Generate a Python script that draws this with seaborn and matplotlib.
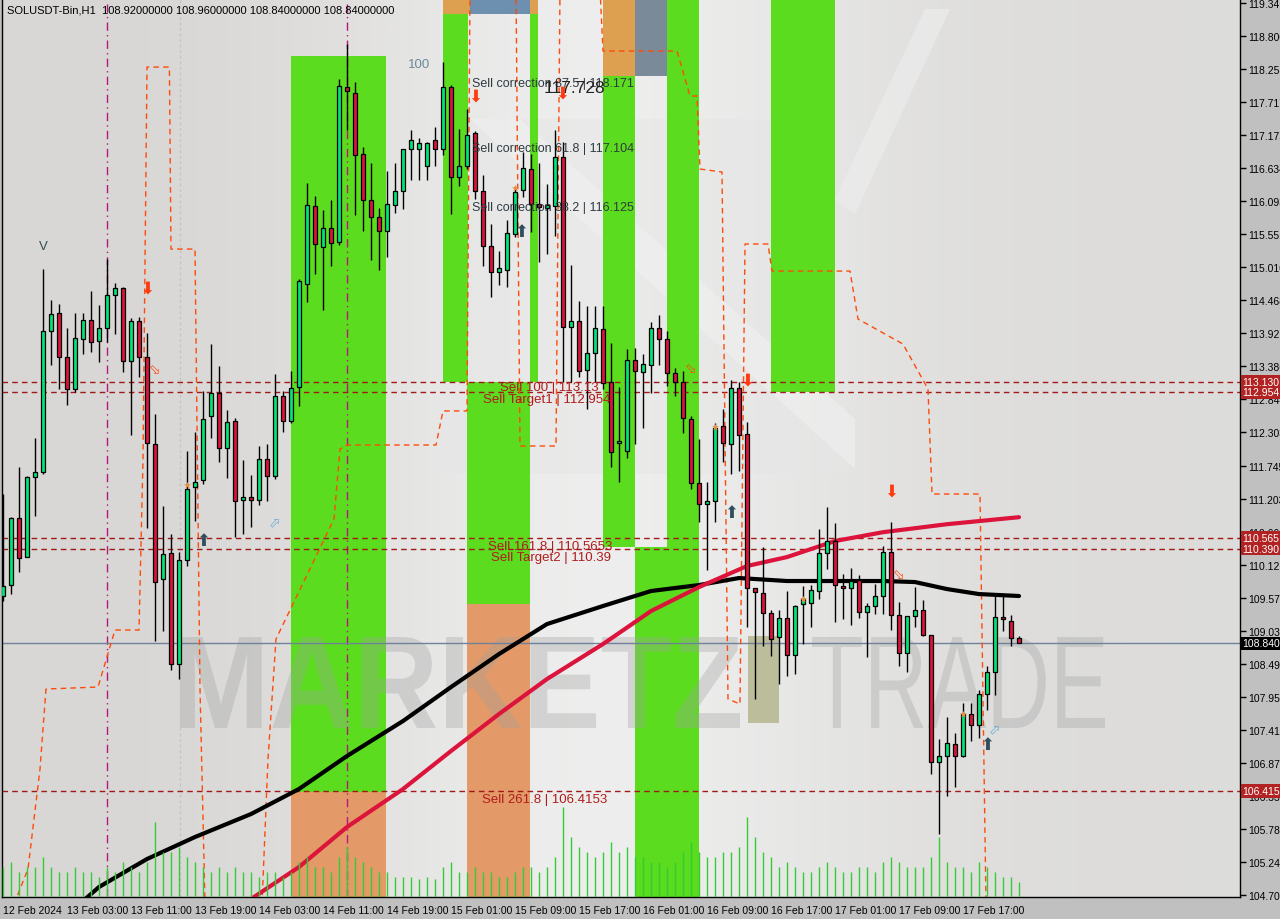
import numpy as np
import pandas as pd
import matplotlib
matplotlib.use("Agg")
import matplotlib.pyplot as plt
import matplotlib.patches as mpatches
import matplotlib.transforms as mtransforms
from matplotlib.textpath import TextPath
from matplotlib.font_manager import FontProperties
import seaborn as sns

sns.set_style("white")
plt.rcParams['font.family'] = ['Liberation Sans', 'DejaVu Sans']

# ---------------- data ----------------
opens = [109.613,109.793,110.892,110.252,111.565,111.647,113.960,114.256,113.534,113.009,
113.829,114.141,113.796,114.009,114.551,114.666,113.468,114.124,113.534,112.106,
109.891,110.318,108.497,110.203,111.401,111.516,112.566,112.943,112.041,112.484,
111.188,111.237,111.188,111.860,111.581,112.894,112.484,113.042,114.731,116.011,
115.338,115.650,115.420,117.963,117.865,116.864,116.109,115.830,115.601,116.027,
116.257,116.946,116.946,116.667,117.094,116.946,117.963,116.487,116.667,117.209,
116.257,115.355,114.928,114.961,115.552,116.273,116.618,116.044,115.978,116.011,
116.815,114.026,114.124,113.320,113.599,113.993,113.124,112.123,111.991,113.484,
113.288,113.402,114.009,113.829,113.271,113.124,112.516,111.466,111.122,111.171,
112.402,112.106,113.025,112.270,109.744,109.662,109.334,108.940,109.252,108.645,
109.481,109.498,109.695,110.318,110.515,109.777,109.744,109.874,109.350,109.449,
109.613,110.335,109.301,108.677,109.284,109.383,108.973,106.889,106.987,107.185,
106.987,107.677,107.496,108.005,108.366,109.268,109.202,108.920]
highs = [111.286,110.908,111.729,111.581,112.205,114.977,114.469,114.403,114.009,114.256,
114.256,114.616,114.387,115.141,114.748,114.682,114.174,114.190,113.927,112.599,
111.089,110.630,110.335,111.991,112.303,112.976,113.747,113.386,112.664,112.533,
111.844,111.598,112.074,112.106,113.255,112.976,113.304,114.813,116.388,116.175,
115.945,116.109,118.094,118.669,118.045,116.979,116.716,115.978,116.585,116.716,
116.946,117.258,117.127,117.061,117.307,118.373,117.996,117.274,117.602,117.241,
116.520,115.716,115.273,115.781,116.339,116.897,116.864,116.716,116.372,117.258,
117.061,115.043,114.452,114.370,114.370,114.370,113.763,113.042,113.665,113.681,
113.583,114.108,114.223,113.960,113.353,113.304,112.566,112.188,111.483,112.451,
112.681,113.156,113.124,112.467,109.744,110.417,109.383,109.383,109.695,109.465,
109.777,109.793,110.712,111.073,110.810,109.974,110.072,109.957,109.498,109.809,
110.433,110.827,109.514,109.284,109.760,109.547,108.973,107.267,107.627,107.365,
107.857,107.857,108.070,108.464,109.613,109.613,109.301,108.960]
lows = [109.531,109.645,110.006,110.252,110.925,111.614,113.402,113.009,112.746,112.960,
113.583,113.616,113.452,113.780,113.911,113.288,112.254,113.206,110.728,108.875,
109.038,108.398,108.251,110.105,110.843,111.450,112.205,111.811,111.549,110.580,
110.630,110.745,111.105,111.171,111.532,112.303,112.451,112.730,114.436,114.895,
114.305,115.027,115.371,117.258,115.863,115.601,115.125,114.961,115.174,115.896,
115.962,116.437,116.437,116.437,116.667,116.848,115.880,116.339,116.618,116.126,
115.027,114.518,114.715,114.682,115.502,116.159,115.584,115.092,115.223,115.519,
113.124,113.124,113.206,112.681,113.124,113.009,111.729,111.483,111.877,112.106,
112.369,112.943,113.402,113.058,112.894,112.287,111.368,110.827,110.039,110.827,
111.811,111.614,111.664,109.104,107.923,108.792,108.628,108.169,108.300,108.333,
108.825,109.104,109.563,110.056,109.186,109.235,109.137,109.252,108.612,109.317,
109.317,109.055,108.464,108.366,109.104,108.956,106.692,105.708,106.332,106.479,
106.971,107.234,107.283,107.742,107.989,109.038,108.792,108.840]
closes = [109.777,110.892,110.236,111.565,111.647,113.960,114.239,113.534,113.009,113.845,
114.141,113.780,114.009,114.551,114.666,113.468,114.124,113.534,112.123,109.842,
110.302,108.497,110.203,111.368,111.483,112.516,112.943,112.041,112.467,111.171,
111.237,111.188,111.860,111.581,112.894,112.484,113.025,114.780,116.027,115.388,
115.650,115.404,117.980,117.897,116.848,116.109,115.830,115.601,116.044,116.257,
116.946,117.094,117.045,117.045,116.946,117.963,116.487,116.667,117.176,116.257,
115.355,114.928,114.994,115.568,116.241,116.634,116.044,115.994,116.027,116.815,
114.026,114.124,113.304,113.599,114.009,113.107,111.975,112.156,113.484,113.304,
113.419,114.009,113.829,113.271,113.124,112.533,111.466,111.122,111.171,112.369,
112.123,113.025,112.254,109.744,109.678,109.334,108.907,109.252,108.645,109.449,
109.563,109.711,110.318,110.515,109.793,109.744,109.858,109.350,109.449,109.613,
110.335,109.301,108.677,109.284,109.383,108.973,106.889,106.987,107.201,106.987,
107.677,107.496,108.005,108.366,109.268,109.235,108.924,108.840]
volumes = [30,35,25,30,30,40,30,25,25,30, 25,25,20,30,25,35,30,25,35,75,
45,45,50,40,35,30,25,30,25,30, 25,25,20,25,25,20,25,35,40,30,
30,25,40,50,40,35,30,25,25,20, 20,20,18,20,18,30,35,25,25,30,
25,25,20,20,25,30,30,25,30,40, 90,60,50,45,40,45,55,45,50,40,
40,35,35,30,35,45,55,45,40,40, 45,45,50,80,60,45,40,30,35,30,
25,25,30,35,30,25,25,30,30,25, 35,40,35,30,30,30,40,60,35,30,
30,25,35,30,25,20,20,15]

time_labels = ["12 Feb 2024", "13 Feb 03:00", "13 Feb 11:00", "13 Feb 19:00", "14 Feb 03:00",
               "14 Feb 11:00", "14 Feb 19:00", "15 Feb 01:00", "15 Feb 09:00", "15 Feb 17:00",
               "16 Feb 01:00", "16 Feb 09:00", "16 Feb 17:00", "17 Feb 01:00", "17 Feb 09:00",
               "17 Feb 17:00"]
ytick_values = [119.341, 118.800, 118.258, 117.717, 117.175, 116.634, 116.093, 115.551, 115.010,
                114.468, 113.927, 113.386, 112.844, 112.303, 111.745, 111.203, 110.662, 110.121,
                109.579, 109.038, 108.496, 107.955, 107.414, 106.872, 106.331, 105.789, 105.248,
                104.706]

ma_black_idx = [10, 12, 18, 24, 31, 37, 43, 50, 56, 62, 68, 75, 81, 87, 92, 98, 110, 114, 118, 122, 127]
ma_black_val = [104.609, 104.839, 105.298, 105.659, 106.036, 106.447, 106.988, 107.562, 108.119,
                108.661, 109.153, 109.449, 109.695, 109.793, 109.908, 109.859, 109.859, 109.842,
                109.727, 109.645, 109.613]
ma_red_idx = [31, 37, 43, 50, 56, 62, 68, 75, 81, 87, 93, 98, 104, 110, 118, 127]
ma_red_val = [104.642, 105.167, 105.823, 106.446, 107.070, 107.677, 108.251, 108.825, 109.366,
              109.760, 110.105, 110.252, 110.515, 110.660, 110.791, 110.906]

step_idx = [1.375, 3.125, 4.625, 5.375, 11.875, 14.0, 17.0, 17.5, 18.0, 19.0, 20.8, 21.0, 24.0,
            24.625, 25.25, 32.375, 33.125, 34.125, 41.375, 42.125, 43.0, 54.125, 55.0, 58.0,
            58.375, 64.125, 64.625, 69.125, 69.625, 74.625, 75.0, 84.25, 85.875, 86.75, 87.125,
            89.875, 90.625, 92.125, 92.75, 95.625, 96.125, 105.875, 106.875, 112.5, 115.625,
            116.125, 122.125, 122.875]
step_val = [104.559, 105.134, 106.774, 108.087, 108.120, 109.055, 109.055, 111.860, 118.291,
            118.291, 118.291, 115.305, 115.305, 108.087, 104.559, 104.559, 106.938, 108.907,
            110.876, 112.024, 112.090, 112.090, 112.649, 112.649, 119.571, 119.571, 112.074,
            112.074, 119.571, 119.571, 118.554, 118.554, 117.816, 117.816, 116.618, 116.569,
            107.923, 107.841, 115.388, 115.388, 114.944, 114.944, 114.157, 113.747, 113.009,
            111.286, 111.286, 104.559]

level_prices = [113.130, 112.954, 110.565, 110.390, 106.415]
level_labels = ["113.130", "112.954", "110.565", "110.390", "106.415"]
last_price = 108.840

# zones: (start index, end index, low price, high price, colour)
zones = [
    (36.0, 47.9, 106.397, 118.472, "#5cdc1e"),
    (36.0, 47.9, 104.60, 106.397, "#e39a68"),
    (55.0, 58.1, 113.124, 119.161, "#5cdc1e"),
    (55.0, 58.4, 119.161, 119.50, "#dca050"),
    (58.4, 65.9, 119.161, 119.50, "#6d8fb0"),
    (65.9, 66.9, 119.161, 119.50, "#dca050"),
    (65.9, 66.9, 113.124, 119.161, "#5cdc1e"),
    (58.0, 65.9, 109.481, 113.124, "#5cdc1e"),
    (58.0, 65.9, 104.60, 109.481, "#e39a68"),
    (75.0, 79.0, 118.144, 119.50, "#dca050"),
    (75.0, 79.0, 110.417, 118.144, "#5cdc1e"),
    (79.0, 83.0, 118.144, 119.50, "#7b8a99"),
    (79.0, 83.0, 104.60, 110.417, "#5cdc1e"),
    (83.0, 87.0, 104.60, 119.50, "#5cdc1e"),
    (96.0, 104.0, 112.960, 119.50, "#5cdc1e"),
    (93.1, 97.0, 107.529, 108.956, "#bcbd9a"),
]

# ---------------- figure ----------------
W, H = 1280, 920
fig = plt.figure(figsize=(12.8, 9.2), dpi=100, facecolor="#c0c0c0")
ax = fig.add_axes([2 / W, 22 / H, 1238 / W, 897 / H])
ax.set_facecolor("#d9d8d6")
XMIN, XMAX = -0.125, 154.625
YMIN, YMAX = 104.675, 119.391
ax.set_xlim(XMIN, XMAX)
ax.set_ylim(YMIN, YMAX)

# background gradient (lighter centre)
grad = np.array([[0.0, 0.05, 0.3, 0.7, 0.85, 0.65, 0.35, 0.22, 0.18]])
ax.imshow(grad, extent=[0, 1, 0, 1], transform=ax.transAxes, aspect="auto",
          cmap=matplotlib.colors.LinearSegmentedColormap.from_list("bg", ["#d8d7d5", "#efefef"]),
          interpolation="bicubic", zorder=0)
# faint logo shapes (figure pixels, origin top-left)
def px_poly(pts, color, alpha):
    verts = [(x, H - y) for x, y in pts]
    ax.add_artist(mpatches.Polygon(verts, closed=True, transform=mtransforms.IdentityTransform(),
                                   fc=color, ec="none", alpha=alpha, zorder=0.3))

px_poly([(435, 120), (855, 120), (855, 475), (435, 475)], "#e6e6e6", 0.5)
px_poly([(835, 200), (925, 10), (950, 10), (855, 215)], "#ececec", 0.7)
px_poly([(470, 120), (520, 120), (855, 420), (855, 470)], "#f2f2f2", 0.5)

for (x0, x1, lo, hi, c) in zones:
    ax.add_patch(mpatches.Rectangle((x0, lo), x1 - x0, hi - lo, color=c, lw=0, zorder=1))

# watermark (drawn in figure pixels)
def wm_text(s, x_px, y_top_px, width_px, height_px, weight):
    fp = FontProperties(family="Liberation Sans", weight=weight)
    tp = TextPath((0, 0), s, size=100, prop=fp)
    bb = tp.get_extents()
    sx = width_px / bb.width
    sy = height_px / bb.height
    tr = (mtransforms.Affine2D().translate(-bb.x0, -bb.y0).scale(sx, sy)
          .translate(x_px, H - y_top_px - height_px))
    patch = mpatches.PathPatch(tp, transform=tr, fc="#a0a0a0", ec="none", alpha=0.33, zorder=1.5)
    ax.add_artist(patch)

wm_text("MARKETZ", 180, 638, 560, 91, "bold")
wm_text("TRADE", 812, 638, 293, 91, "normal")

# vertical separators
for xi, col, ls in [(13, "#b5177a", (0, (6, 3, 1, 3))), (43, "#b5177a", (0, (6, 3, 1, 3))),
                    (22.1, "#c4c4c4", (0, (2, 2)))]:
    ax.axvline(xi, color=col, lw=1, ls=ls, zorder=2)

# level lines
for lp in level_prices:
    ax.axhline(lp, color="#a01818", lw=1, ls=(0, (4, 3)), zorder=2)
ax.axhline(last_price, color="#70819a", lw=1, zorder=2)

# step stop line
ax.plot(step_idx, step_val, color="#ff4a0a", lw=1, ls=(0, (4, 3)), zorder=2.5)

# volumes
ax2 = ax.twinx()
ax2.set_ylim(0, 897)
ax2.vlines(np.arange(len(volumes)), 0, volumes, color="#33cc33", lw=1, zorder=2)
ax2.set_yticks([])
for s in ax2.spines.values():
    s.set_visible(False)

# moving averages (seaborn)
sns.lineplot(x=ma_black_idx, y=ma_black_val, ax=ax, color="black", lw=3, sort=False, zorder=3)
sns.lineplot(x=ma_red_idx, y=ma_red_val, ax=ax, color="#dc143c", lw=3, sort=False, zorder=3)

# candles
df = pd.DataFrame({"o": opens, "h": highs, "l": lows, "c": closes})
idx = np.arange(len(df))
up = df["c"] >= df["o"]
ax.vlines(idx, df["l"], df["h"], color="black", lw=1, zorder=4)
body_lo = np.minimum(df["o"], df["c"])
body_h = np.maximum(np.abs(df["c"] - df["o"]), 0.02)
ax.bar(idx[up], body_h[up], bottom=body_lo[up], width=0.62, color="#00e676",
       edgecolor="black", linewidth=0.9, zorder=5)
ax.bar(idx[~up], body_h[~up], bottom=body_lo[~up], width=0.62, color="#dc143c",
       edgecolor="black", linewidth=0.9, zorder=5)

# annotations
tc = "#2f3a40"
rc = "#b01c1c"
ax.text(58.6, 118.03, "Sell correction 87.5 | 118.171", fontsize=9, color=tc, va="center", zorder=6)
ax.text(67.6, 117.95, "117.728", fontsize=12.5, color="#222222", va="center", zorder=6)
ax.text(58.6, 116.96, "Sell correction 61.8 | 117.104", fontsize=9, color=tc, va="center", zorder=6)
ax.text(58.6, 115.99, "Sell correction 38.2 | 116.125", fontsize=9, color=tc, va="center", zorder=6)
ax.text(62.1, 113.04, "Sell 100 | 113.13", fontsize=9.5, color=rc, va="center", zorder=6)
ax.text(60.0, 112.85, "Sell Target1 | 112.954", fontsize=9.5, color=rc, va="center", zorder=6)
ax.text(60.6, 110.43, "Sell 161.8 | 110.5653", fontsize=9.5, color=rc, va="center", zorder=6)
ax.text(61.0, 110.25, "Sell Target2 | 110.39", fontsize=9.5, color=rc, va="center", zorder=6)
ax.text(59.9, 106.28, "Sell 261.8 | 106.4153", fontsize=9.5, color=rc, va="center", zorder=6)
ax.text(50.6, 118.34, "100", fontsize=9.5, color="#6a8a9a", va="center", zorder=6)
ax.text(5.0, 115.35, "V", fontsize=9.5, color="#2f4f4f", va="center", ha="center", zorder=6)

for (xi, yp) in [(18.0, 114.68), (59.0, 117.82), (69.9, 117.87), (93.0, 113.17), (111.0, 111.35)]:
    ax.text(xi, yp, "\u2b07", fontsize=12, color="#ff3a10", ha="center", va="center",
            family="DejaVu Sans", zorder=6)
for (xi, yp) in [(25.0, 110.53), (64.8, 115.60), (91.0, 110.99), (123.0, 107.18)]:
    ax.text(xi, yp, "\u2b06", fontsize=12, color="#2f4f5f", ha="center", va="center",
            family="DejaVu Sans", zorder=6)
for (xi, yp) in [(19.0, 113.34), (85.9, 113.35), (112.0, 109.97)]:
    ax.text(xi, yp, "\u2b02", fontsize=10, color="#ff4a10", ha="center", va="center",
            family="DejaVu Sans", zorder=6)
for (xi, yp) in [(33.9, 110.84), (124.0, 107.45)]:
    ax.text(xi, yp, "\u2b00", fontsize=10, color="#6aaed6", ha="center", va="center",
            family="DejaVu Sans", zorder=6)
ax.scatter([23, 64, 89, 100, 120], [111.44, 116.3, 112.38, 109.56, 107.67], marker="*", s=30,
           color="#e89040", zorder=6, lw=0)

# axes styling
ax.yaxis.tick_right()
ax.set_yticks(ytick_values)
ax.set_yticklabels([f"{v:.3f}" for v in ytick_values])
ax.set_xticks(np.arange(0, 8 * len(time_labels), 8))
ax.set_xticklabels(time_labels, ha="left")
ax.tick_params(axis="both", which="both", direction="out", length=4, width=1, color="black",
               labelsize=7.5, labelcolor="black", pad=2)
ax.tick_params(axis="y", pad=2)
for s in ["left", "bottom", "right"]:
    ax.spines[s].set_visible(True)
    ax.spines[s].set_color("black")
    ax.spines[s].set_linewidth(1)
ax.spines["top"].set_visible(False)

# price boxes on axis
trans = mtransforms.blended_transform_factory(ax.transAxes, ax.transData)
for lp, lab in zip(level_prices, level_labels):
    ax.text(1.002, lp, lab, transform=trans, fontsize=7.5, color="white", va="center", ha="left",
            bbox=dict(boxstyle="square,pad=0.15", fc="#b22222", ec="none"), zorder=10, clip_on=False)
ax.text(1.002, last_price, f"{last_price:.3f}", transform=trans, fontsize=7.5, color="white",
        va="center", ha="left", bbox=dict(boxstyle="square,pad=0.15", fc="black", ec="none"),
        zorder=10, clip_on=False)

# title
ax.text(0.004, 0.995, "SOLUSDT-Bin,H1  108.92000000 108.96000000 108.84000000 108.84000000",
        transform=ax.transAxes, fontsize=8, color="black", va="top", ha="left", zorder=10)

fig.savefig("out.png", dpi=100, facecolor=fig.get_facecolor())
